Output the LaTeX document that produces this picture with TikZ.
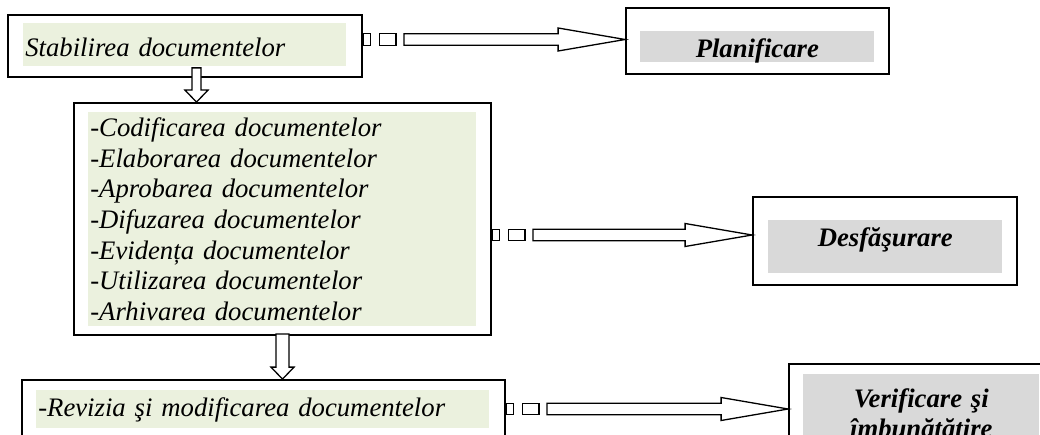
\documentclass[tikz,border=0pt]{standalone}
\usepackage{fontspec}
\setmainfont{Liberation Serif}
\usetikzlibrary{calc}

\definecolor{palegreen}{HTML}{EBF1DE}
\definecolor{palegray}{HTML}{D9D9D9}

\newcommand\hollowlink[2]{%
  \path (#2) coordinate (lb);
  \path (#1.east |- lb) coordinate (la);
  \draw[link] ($(la)+(0,-5.75)$) rectangle ($(la)+(7.5,5.75)$);
  \draw[link] ($(la)+(16.5,-5.75)$) rectangle ($(la)+(33,5.75)$);
  \draw[link] ($(la)+(41,-5.75)$) -- ($(lb)+(-67,-5.75)$) -- ($(lb)+(-67,-11.5)$) -- (lb)
    -- ($(lb)+(-67,11.5)$) -- ($(lb)+(-67,5.75)$) -- ($(la)+(41,5.75)$) -- cycle;}

\newcommand\hollowdown[3]{%
  \path (#1) coordinate (da);
  \path (da |- #2.north) coordinate (db);
  \draw[link] ($(da)+(-#3,0)$) -- ($(db)+(-#3,-12)$) -- ($(db)+(-11.5,-12)$) -- (db)
    -- ($(db)+(11.5,-12)$) -- ($(db)+(#3,-12)$) -- ($(da)+(#3,0)$) -- cycle;}

\begin{document}
\begin{tikzpicture}[x=1pt,y=-1pt,font=\fontsize{26.7}{30.7}\selectfont\itshape]
       \tikzstyle{frame}=[draw, line width=1.8pt, inner sep=0pt]
       \tikzstyle{greenfill}=[fill=palegreen, anchor=north west, inner xsep=2pt, inner ysep=0pt, align=left]
       \tikzstyle{grayfill}=[fill=palegray, anchor=north west, inner xsep=2pt, inner ysep=0pt, align=center, font=\fontsize{26.7}{30.7}\selectfont\itshape\bfseries]
       \tikzstyle{link}=[draw, line width=1.3pt, fill=white, line join=miter]

       \useasboundingbox (0,0) rectangle (1040,435);
       \clip (0,0) rectangle (1040,435);

       \node[frame, minimum width=354, minimum height=62] (stab) at (185,46) {};
       \node[frame, minimum width=417, minimum height=232] (lista) at (282.5,219) {};
       \node[frame, minimum width=483, minimum height=60] (rev) at (263.5,410) {};
       \node[frame, minimum width=263, minimum height=66] (plan) at (757.5,41) {};
       \node[frame, minimum width=264, minimum height=88] (desf) at (885,241) {};
       \node[frame, minimum width=266, minimum height=90] (verif) at (922,409) {};

       \node[greenfill, text width=319pt, minimum height=43, text height=23pt, text depth=0pt]
         (stabtext) at ([shift={(16,9)}]stab.north west) {Stabilirea documentelor};
       \node[greenfill, text width=384pt, minimum height=214]
         (listatext) at ([shift={(15,10)}]lista.north west)
         {-Codificarea documentelor\\-Elaborarea documentelor\\-Aprobarea documentelor\\
          -Difuzarea documentelor\\-Evidența documentelor\\-Utilizarea documentelor\\
          -Arhivarea documentelor};
       \node[greenfill, text width=449pt, minimum height=38, text height=19pt, text depth=5pt]
         (revtext) at ([shift={(15,11)}]rev.north west) {-Revizia şi modificarea documentelor};
       \node[grayfill, minimum width=234, minimum height=31, text height=21pt, text depth=0pt]
         (plantext) at ([shift={(15,24)}]plan.north west) {Planificare};
       \node[grayfill, minimum width=234, minimum height=53, text height=18pt, text depth=19pt]
         (desftext) at ([shift={(16,24)}]desf.north west) {Desfăşurare};
       \node[grayfill, text width=232pt, minimum height=70]
         (veriftext) at ([shift={(15,11)}]verif.north west) {\rule{0pt}{27pt}Verificare şi\\îmbunătătire};

       \hollowlink{stab}{[yshift=1.5pt]plan.west}
       \hollowlink{lista}{[yshift=6pt]desf.west}
       \hollowlink{rev}{verif.west}

       \coordinate (s1) at ([shift={(11.5,-10)}]stab.south);
       \hollowdown{s1}{lista}{4.5}
       \coordinate (s2) at ([shift={(0,-2)}]lista.south);
       \hollowdown{s2}{rev}{6.5}
     \end{tikzpicture}
\end{document}
